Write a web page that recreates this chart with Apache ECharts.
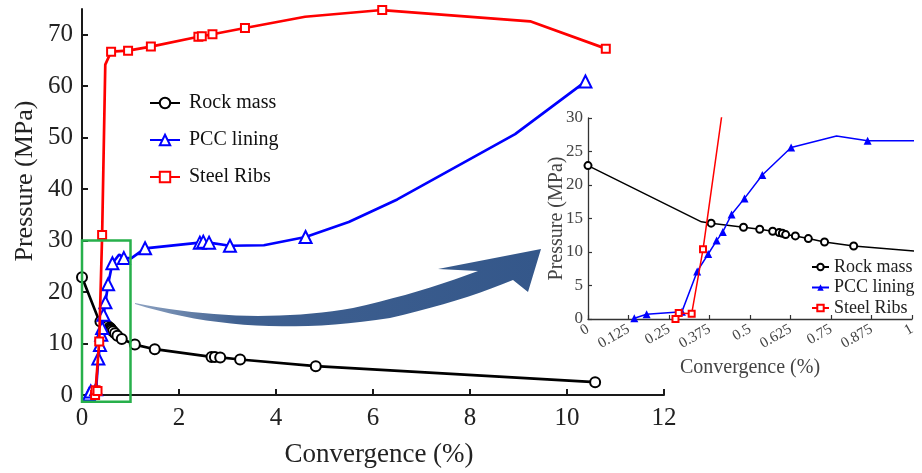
<!DOCTYPE html>
<html><head><meta charset="utf-8">
<script src="https://cdn.jsdelivr.net/npm/echarts@6/dist/echarts.min.js"></script>
<style>html,body{margin:0;padding:0;background:#fff}#c{width:922px;height:473px}</style>
</head><body><div id="c"></div>
<script>
// ---- data (Convergence %, Pressure MPa) ----
const seriesNames = ['Rock mass', 'PCC lining', 'Steel Ribs'];
const rockMass = [[0,22.9],[0.35,14.5],[0.38,14.3],[0.48,13.7],[0.53,13.4],[0.57,13.1],[0.59,12.9],[0.60,12.8],[0.61,12.6],[0.64,12.4],[0.68,12.0],[0.73,11.5],[0.82,10.9],[1.09,9.8],[1.5,8.9],[2.67,7.4],[2.74,7.4],[2.85,7.3],[3.26,6.9],[4.82,5.6],[10.58,2.5]];
const rockMassNoMarker = [1];
const pccLining = [[0.143,0.1],[0.181,0.7],[0.29,1.1],[0.337,7.1],[0.371,9.7],[0.397,11.7],[0.416,13.0],[0.443,15.6],[0.483,18.0],[0.538,21.5],[0.627,25.6],[0.767,27.3],[0.863,26.6],[1.02,26.6],[1.30,28.5],[2.43,29.6],[2.50,29.8],[2.62,29.6],[3.05,29.0],[3.75,29.1],[4.61,30.7],[5.5,33.6],[6.5,38.0],[8.93,50.7],[10.38,60.9]];
const pccLiningNoMarker = [11,13,19,21,22,23];
const steelRibs = [[0.27,0.0],[0.28,0.9],[0.32,0.8],[0.355,10.4],[0.415,31.1],[0.48,64.2],[0.60,66.7],[0.95,66.9],[1.42,67.7],[2.40,69.6],[2.47,69.7],[2.69,70.1],[3.36,71.3],[4.6,73.5],[6.19,74.8],[9.24,72.6],[10.80,67.3]];
const steelRibsNoMarker = [5,13,15];
const mainXTicks = [0,2,4,6,8,10,12];
const mainYTicks = [0,10,20,30,40,50,60,70];
const insetXTicks = [0,0.125,0.25,0.375,0.5,0.625,0.75,0.875,1];
const insetYTicks = [0,5,10,15,20,25,30];
const zoomBox = [[0,30],[1,-1.3]];
const xTitle = 'Convergence (%)';
const yTitle = 'Pressure (MPa)';

const FONT = 'Liberation Serif';
const colors = ['#000000', '#0000ff', '#ff0000'];
const mainSymbols = ['emptyCircle', 'emptyTriangle', 'emptyRect'];
const mainSizes = [10, 12, 8];
const insetSymbols = ['emptyCircle', 'triangle', 'emptyRect'];
const insetSizes = [7, 8, 6];
const allData = [rockMass, pccLining, steelRibs];
const noMarker = [rockMassNoMarker, pccLiningNoMarker, steelRibsNoMarker];

function build(pts, hidden) {
  return pts.map((p, i) => hidden.indexOf(i) >= 0 ? { value: p, symbol: 'none' } : p);
}

const chart = echarts.init(document.getElementById('c'), null, { renderer: 'canvas' });

const series = [];
for (let k = 0; k < 3; k++) {
  series.push({
    name: seriesNames[k], type: 'line', xAxisIndex: 0, yAxisIndex: 0,
    data: build(allData[k], noMarker[k]),
    symbol: mainSymbols[k], symbolSize: mainSizes[k],
    lineStyle: { color: colors[k], width: 2.7 },
    itemStyle: { color: colors[k], borderWidth: 2 },
    z: 3 + k
  });
}
for (let k = 0; k < 3; k++) {
  series.push({
    name: 'inset:' + seriesNames[k], type: 'line', xAxisIndex: 1, yAxisIndex: 1,
    data: build(allData[k], noMarker[k]),
    symbol: insetSymbols[k], symbolSize: insetSizes[k], clip: true,
    lineStyle: { color: colors[k], width: 1.5 },
    itemStyle: { color: colors[k], borderWidth: 1.3 },
    z: 3 + k
  });
}

const mainAxisLine = { lineStyle: { color: '#1a1a1a', width: 2 } };
const insetAxisLine = { lineStyle: { color: '#333', width: 1.3 } };

chart.setOption({
  animation: false,
  backgroundColor: '#fff',
  grid: [
    { left: 82, top: 9, width: 582, height: 387 },
    { left: 588, top: 118, width: 324, height: 201 }
  ],
  xAxis: [
    { type: 'value', gridIndex: 0, min: 0, max: 12, interval: 2,
      axisLine: mainAxisLine, splitLine: { show: false },
      axisTick: { inside: true, length: 6, lineStyle: { color: '#1a1a1a', width: 2 } },
      axisLabel: { fontFamily: FONT, fontSize: 25, color: '#222', margin: 11, customValues: mainXTicks },
      name: xTitle, nameLocation: 'middle', nameGap: 46, nameMoveOverlap: false,
      nameTextStyle: { fontFamily: FONT, fontSize: 27, color: '#222', padding: [0, 0, 0, 12] } },
    { type: 'value', gridIndex: 1, min: 0, max: 1, interval: 0.125,
      axisLine: insetAxisLine, splitLine: { show: false },
      axisTick: { inside: true, length: 4, lineStyle: { color: '#333', width: 1.2 } },
      axisLabel: { fontFamily: FONT, fontSize: 15, color: '#444', margin: 9, rotate: 30, customValues: insetXTicks },
      name: xTitle, nameLocation: 'middle', nameGap: 39, nameMoveOverlap: false,
      nameTextStyle: { fontFamily: FONT, fontSize: 20, color: '#444' } }
  ],
  yAxis: [
    { type: 'value', gridIndex: 0, min: 0, max: 75,
      axisLine: mainAxisLine, splitLine: { show: false },
      axisTick: { inside: true, length: 6, customValues: mainYTicks, lineStyle: { color: '#1a1a1a', width: 2 } },
      axisLabel: { fontFamily: FONT, fontSize: 25, color: '#222', margin: 9, customValues: mainYTicks },
      name: yTitle, nameLocation: 'middle', nameGap: 44, nameMoveOverlap: false,
      nameTextStyle: { fontFamily: FONT, fontSize: 26, color: '#222', padding: [0, 0, 0, 42] } },
    { type: 'value', gridIndex: 1, min: 0, max: 30, interval: 5,
      axisLine: insetAxisLine, splitLine: { show: false },
      axisTick: { inside: true, length: 4, lineStyle: { color: '#333', width: 1.2 } },
      axisLabel: { fontFamily: FONT, fontSize: 17, color: '#444', margin: 5, customValues: insetYTicks },
      name: yTitle, nameLocation: 'middle', nameGap: 21, nameMoveOverlap: false,
      nameTextStyle: { fontFamily: FONT, fontSize: 20, color: '#444' } }
  ],
  legend: [
    { orient: 'vertical', left: 149, top: 93, padding: 0, itemGap: 17,
      itemWidth: 30, itemHeight: 13, selectedMode: false,
      data: seriesNames,
      textStyle: { fontFamily: FONT, fontSize: 20, lineHeight: 20, color: '#111', padding: [0, 0, 0, 4] } },
    { orient: 'vertical', left: 811, top: 258, padding: 0, itemGap: 2.5,
      itemWidth: 17, itemHeight: 8, selectedMode: false,
      data: seriesNames.map(n => 'inset:' + n),
      formatter: n => n.replace('inset:', ''),
      textStyle: { fontFamily: FONT, fontSize: 18, lineHeight: 18, color: '#222' } }
  ],
  series: series
});

// Zoom box (from data coordinates) and decorative arrow outline
const a = chart.convertToPixel({ xAxisIndex: 0, yAxisIndex: 0 }, zoomBox[0]);
const b = chart.convertToPixel({ xAxisIndex: 0, yAxisIndex: 0 }, zoomBox[1]);

function quad(p0, c, p1, n) {
  const out = [];
  for (let i = 1; i <= n; i++) {
    const t = i / n, u = 1 - t;
    out.push([u * u * p0[0] + 2 * u * t * c[0] + t * t * p1[0], u * u * p0[1] + 2 * u * t * c[1] + t * t * p1[1]]);
  }
  return out;
}
const arrowPts = [[135, 304]]
  .concat(quad([135, 304], [250, 340], [390, 318], 20))
  .concat(quad([390, 318], [460, 302], [513, 280], 10))
  .concat([[528, 292], [541, 249], [438, 269], [478, 271]])
  .concat(quad([478, 271], [420, 293], [353, 308], 10))
  .concat(quad([353, 308], [250, 326], [135, 303], 20));

chart.setOption({
  graphic: [
    { type: 'polygon', z: 19,
      shape: { points: arrowPts },
      style: { fill: { type: 'linear', x: 0, y: 0, x2: 1, y2: 0, colorStops: [
        { offset: 0, color: '#8ea3c2' }, { offset: 0.25, color: '#3f6090' }, { offset: 1, color: '#34578a' }] } } },
    { type: 'rect', z: 20,
      shape: { x: a[0], y: a[1], width: b[0] - a[0], height: b[1] - a[1] },
      style: { fill: 'none', stroke: '#27b04b', lineWidth: 2.5 } }
  ]
});
</script></body></html>
